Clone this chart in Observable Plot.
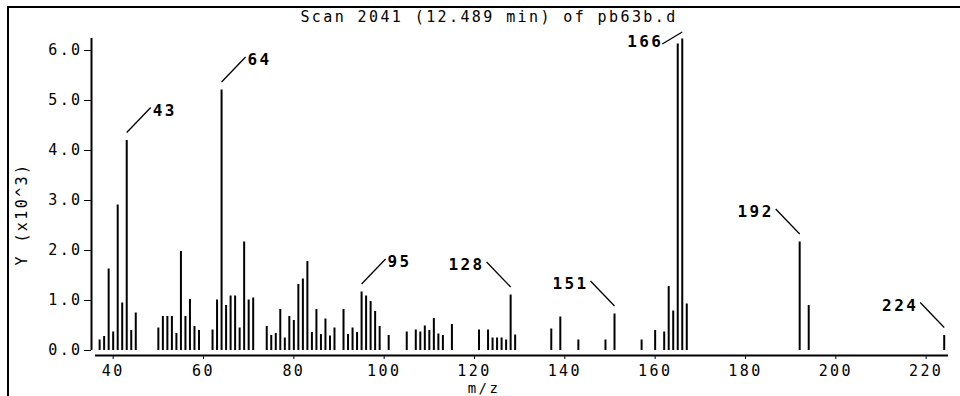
<!DOCTYPE html>
<html>
<head>
<meta charset="utf-8">
<script src="https://cdn.jsdelivr.net/npm/d3@7"></script>
<script src="https://cdn.jsdelivr.net/npm/@observablehq/plot@0.6"></script>
<style>
  html, body { margin: 0; padding: 0; background: #fff; }
  #wrap { position: relative; width: 960px; height: 396px; overflow: hidden; background: #fff; }
  #border { position: absolute; left: 7px; top: 6px; width: 952px; height: 400px;
            border-top: 2px solid #000; border-left: 2px solid #000; pointer-events: none; }
  #wrap svg text { letter-spacing: 2.4px; }
</style>
</head>
<body>
<div id="wrap"><div id="border"></div></div>
<script>
// ---- data ----
const title = "Scan 2041 (12.489 min) of pb63b.d";
const xLabel = "m/z";
const yLabel = "Y (x10^3)";

const mz = [37, 38, 39, 40, 41, 42, 43, 44, 45,
  50, 51, 52, 53, 54, 55, 56, 57, 58, 59,
  62, 63, 64, 65, 66, 67, 68, 69, 70, 71,
  74, 75, 76, 77, 78, 79, 80, 81, 82, 83, 84, 85, 86, 87, 88, 89,
  91, 92, 93, 94, 95, 96, 97, 98, 99, 101,
  105, 107, 108, 109, 110, 111, 112, 113, 115,
  121, 123, 124, 125, 126, 127, 128, 129,
  137, 139, 143, 149, 151,
  157, 160, 162, 163, 164, 165, 166, 167,
  192, 194, 224];
const intensity = [0.21, 0.28, 1.63, 0.37, 2.91, 0.95, 4.20, 0.40, 0.75,
  0.45, 0.68, 0.68, 0.68, 0.34, 1.98, 0.68, 1.02, 0.48, 0.40,
  0.41, 1.01, 5.21, 0.90, 1.09, 1.09, 0.45, 2.17, 1.01, 1.05,
  0.48, 0.30, 0.34, 0.82, 0.25, 0.68, 0.60, 1.32, 1.43, 1.78, 0.36, 0.82, 0.32, 0.63, 0.29, 0.45,
  0.82, 0.32, 0.45, 0.36, 1.17, 1.09, 0.98, 0.78, 0.48, 0.30,
  0.37, 0.41, 0.37, 0.49, 0.40, 0.64, 0.33, 0.30, 0.52,
  0.41, 0.41, 0.25, 0.25, 0.25, 0.21, 1.11, 0.31,
  0.43, 0.67, 0.21, 0.21, 0.73,
  0.21, 0.40, 0.37, 1.28, 0.79, 6.13, 6.23, 0.93,
  2.17, 0.90, 0.30];

const labelMz = [43, 64, 95, 128, 151, 166, 192, 224];
const labelSide = ["right", "right", "right", "left", "left", "left", "left", "left"];

const xTicks = [40, 60, 80, 100, 120, 140, 160, 180, 200, 220];
const yTicks = [0, 1, 2, 3, 4, 5, 6];

// ---- layout ----
const W = 960, H = 396;
const M = {top: 38, right: 12, bottom: 41, left: 91};
const xDomain = [35.2, 224.95];
const yDomain = [-0.1, 6.24];
const xAxisStart = 36.1;
const kx = (W - M.left - M.right) / (xDomain[1] - xDomain[0]); // px per m/z unit
const ky = (H - M.top - M.bottom) / (yDomain[1] - yDomain[0]);  // px per 1e3 units
const leaderDefault = {gap: 8, dx: 24, rise: 25, textGap: 2, textDy: 3};
const leaderOverride = {166: {gap: 7, dx: 20, rise: -12, textGap: -1, textDy: -2}};

const peaks = mz.map((m, i) => ({mz: m, v: intensity[i]}));
const vOf = new Map(peaks.map(d => [d.mz, d.v]));
const annots = labelMz.map((m, i) => {
  const L = Object.assign({}, leaderDefault, leaderOverride[m] || {});
  const s = labelSide[i] === "right" ? 1 : -1;
  const v = vOf.get(m);
  const x2 = m + s * L.dx / kx;
  const y2 = v + (L.gap + L.rise) / ky;
  return {
    label: String(m),
    x1: m, y1: v + L.gap / ky, x2, y2,
    tx: x2 + s * L.textGap / kx, ty: y2 - L.textDy / ky,
    anchor: s > 0 ? "start" : "end"
  };
});

const chart = Plot.plot({
  width: W, height: H,
  marginTop: M.top, marginRight: M.right, marginBottom: M.bottom, marginLeft: M.left,
  style: {fontFamily: "'DejaVu Sans Mono', monospace", fontSize: "15px", color: "#000", background: "#fff"},
  x: {domain: xDomain, ticks: xTicks, tickSize: 4, tickPadding: 6, label: null},
  y: {domain: yDomain, ticks: yTicks, tickFormat: d3.format(".1f"), tickSize: 7, tickPadding: 2, label: null},
  marks: [
    Plot.ruleX([xDomain[0]], {y1: 0, y2: yDomain[1], stroke: "#000", strokeWidth: 2}),
    Plot.ruleY([yDomain[0]], {x1: xAxisStart, x2: xDomain[1], stroke: "#000", strokeWidth: 2}),
    Plot.ruleX(peaks, {x: "mz", y1: 0, y2: "v", stroke: "#000", strokeWidth: 2}),
    Plot.link(annots, {x1: "x1", y1: "y1", x2: "x2", y2: "y2", stroke: "#000", strokeWidth: 1.3}),
    Plot.text(annots.filter(d => d.anchor === "start"), {x: "tx", y: "ty", text: "label", textAnchor: "start", fontSize: 16, fontWeight: "bold", fill: "#000"}),
    Plot.text(annots.filter(d => d.anchor === "end"), {x: "tx", y: "ty", text: "label", textAnchor: "end", fontSize: 16, fontWeight: "bold", fill: "#000"}),
    Plot.text([title], {frameAnchor: "top", lineAnchor: "middle", textAnchor: "middle", dy: -21, dx: -31, fontSize: 15, fill: "#000"}),
    Plot.text([yLabel], {frameAnchor: "left", textAnchor: "middle", lineAnchor: "middle", dx: -69, dy: 17, rotate: -90, fontSize: 15, fill: "#000"}),
    Plot.text([xLabel], {frameAnchor: "bottom", textAnchor: "middle", lineAnchor: "middle", dx: -36, dy: 33, fontSize: 14, fill: "#000"})
  ]
});
document.getElementById("wrap").appendChild(chart);
</script>
</body>
</html>
